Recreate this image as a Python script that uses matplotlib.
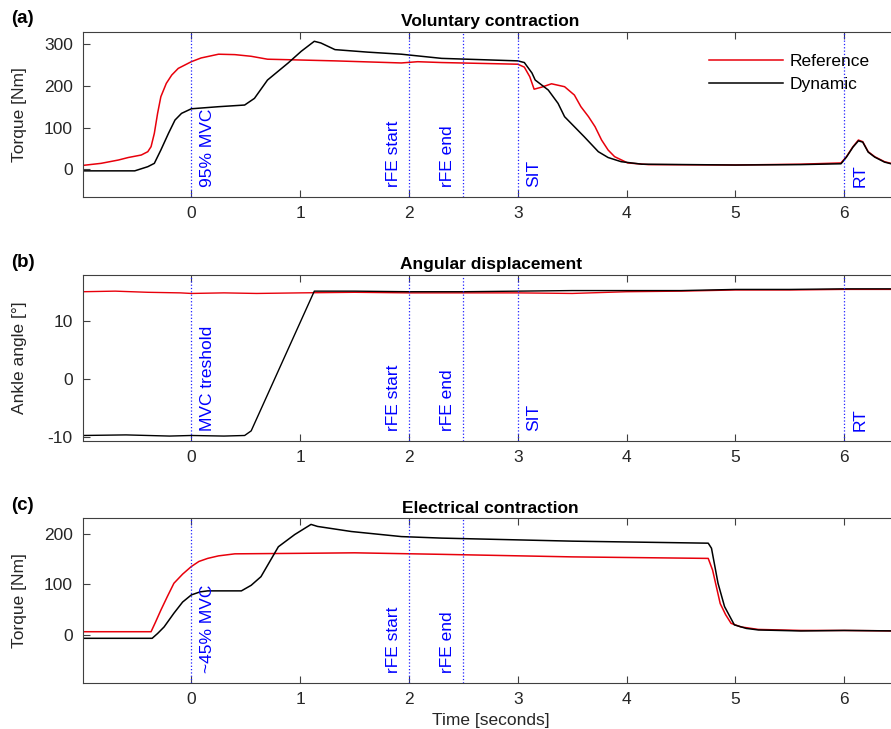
import numpy as np
import matplotlib.pyplot as plt
from matplotlib.transforms import blended_transform_factory, offset_copy

plt.rcParams['font.family'] = ['Liberation Sans', 'DejaVu Sans']
plt.rcParams['font.size'] = 12.5
plt.rcParams['axes.unicode_minus'] = False

# (a) Voluntary contraction - torque [Nm]
ta_ref = [-1.0, -0.83, -0.67, -0.58, -0.46, -0.40, -0.37, -0.34, -0.31, -0.28, -0.23,
          -0.18, -0.12, -0.06, 0.0, 0.09, 0.25, 0.40, 0.55, 0.70, 0.86, 1.32, 1.93,
          2.08, 2.3, 3.0, 3.06, 3.11, 3.15, 3.22, 3.31, 3.43, 3.52, 3.58, 3.65, 3.71,
          3.77, 3.83, 3.89, 4.01, 4.2, 5.0, 5.6, 5.97, 6.02, 6.08, 6.13, 6.17, 6.22,
          6.28, 6.37, 6.43, 6.5]
va_ref = [9, 14, 22, 28, 34, 42, 54, 86, 134, 174, 206,
          226, 242, 250, 258, 267, 276, 275, 271, 264, 263, 260, 255,
          258, 256, 252, 245, 222, 192, 197, 205, 198, 178, 150, 126, 102,
          70, 46, 30, 15, 11, 10, 12, 15, 30, 54, 70, 66, 42,
          30, 18, 14, 10]
ta_dyn = [-1.0, -0.52, -0.40, -0.34, -0.28, -0.21, -0.15, -0.09, 0.0, 0.25, 0.49,
          0.58, 0.64, 0.70, 0.89, 1.01, 1.13, 1.19, 1.32, 1.62, 1.93, 2.3, 3.0,
          3.06, 3.13, 3.16, 3.22, 3.28, 3.37, 3.43, 3.52, 3.61, 3.74, 3.83, 3.95,
          4.14, 5.0, 5.6, 5.97, 6.02, 6.08, 6.13, 6.17, 6.22, 6.28, 6.37, 6.43, 6.5]
va_dyn = [-4, -4, 6, 14, 46, 86, 118, 134, 145, 150, 154,
          170, 192, 214, 255, 283, 307, 303, 287, 281, 276, 266, 260,
          256, 231, 214, 202, 190, 158, 126, 102, 78, 42, 28, 18,
          12, 10, 11, 13, 29, 53, 68, 65, 41, 29, 17, 13, 9]

# (b) Angular displacement - ankle angle [deg]
tb_ref = [-1.0, -0.7, -0.4, -0.1, 0.0, 0.3, 0.6, 1.0, 1.5, 2.0, 2.5, 3.0, 3.5, 4.0,
          4.5, 5.0, 5.5, 6.0, 6.5]
vb_ref = [15.1, 15.2, 15.0, 14.9, 14.8, 14.9, 14.8, 14.9, 15.0, 14.9, 14.9, 14.9, 14.8, 15.1,
          15.2, 15.4, 15.4, 15.5, 15.5]
tb_dyn = [-1.0, -0.6, -0.2, 0.0, 0.3, 0.49, 0.55, 1.13, 1.5, 2.0, 2.5, 3.0, 3.5, 4.0,
          4.5, 5.0, 5.5, 6.0, 6.5]
vb_dyn = [-9.8, -9.7, -9.9, -9.8, -9.9, -9.8, -9.0, 15.2, 15.2, 15.1, 15.1, 15.2, 15.3, 15.3,
          15.3, 15.5, 15.5, 15.6, 15.6]

# (c) Electrical contraction - torque [Nm]
tc_ref = [-1.0, -0.37, -0.33, -0.28, -0.22, -0.16, -0.08, 0.0, 0.07, 0.15, 0.25, 0.4,
          1.0, 1.5, 2.3, 3.5, 4.75, 4.79, 4.86, 4.91, 4.96, 5.05, 5.21, 5.6, 6.0, 6.5]
vc_ref = [6.5, 6.5, 25, 49, 76, 102, 120, 135, 145, 151, 156, 160,
          161, 162, 159, 154, 151, 128, 62, 40, 23, 16, 11, 9, 9, 8]
tc_dyn = [-1.0, -0.36, -0.31, -0.25, -0.16, -0.08, 0.0, 0.08, 0.15, 0.46, 0.55, 0.64,
          0.80, 0.95, 1.10, 1.16, 1.47, 1.93, 2.3, 3.5, 4.75, 4.78, 4.84, 4.9, 4.99,
          5.1, 5.21, 5.6, 6.0, 6.5]
vc_dyn = [-6.5, -6.5, 3, 16, 43, 65, 79, 85, 87, 87, 98, 115,
          174, 198, 218, 214, 204, 194, 191, 185, 181, 171, 102, 56, 20,
          13, 10, 8, 9, 8]

events_ab = [(0, '95% MVC', 'right'), (2, 'rFE start', 'left'), (2.5, 'rFE end', 'left'),
             (3, 'SIT', 'right'), (6, 'RT', 'right')]
events_b0 = 'MVC treshold'
events_c = [(0, '~45% MVC', 'right'), (2, 'rFE start', 'left'), (2.5, 'rFE end', 'left')]

fig = plt.figure(figsize=(8.91, 7.29), dpi=100)
left, width = 0.0926, 0.916
axa = fig.add_axes([left, 0.7302, width, 0.2263])
axb = fig.add_axes([left, 0.3955, width, 0.2273])
axc = fig.add_axes([left, 0.0635, width, 0.2255])

red = '#e8000b'
txtc = '#262626'

def style(ax, ylim, yticks, title, letter, events):
    ax.set_xlim(-1, 6.5)
    ax.set_ylim(*ylim)
    ax.set_xticks(range(0, 7))
    ax.set_yticks(yticks)
    ax.tick_params(direction='in', top=True, right=True, length=5, width=0.8,
                   colors='#404040', labelcolor=txtc, labelsize=12.5, pad=7)
    for s in ax.spines.values():
        s.set_color('#404040')
        s.set_linewidth(0.8)
    ax.set_title(title, fontweight='bold', fontsize=12.5, pad=4)
    tr = blended_transform_factory(ax.transData, ax.transAxes)
    for x, lab, side in events:
        ax.axvline(x, color='#2020ff', ls=':', lw=0.9)
        dx = 6 if side == 'right' else -6
        t2 = offset_copy(tr, fig=fig, x=dx, y=0, units='points')
        ax.text(x, 0.06, lab, rotation=90, color='#0000ff', fontsize=12.5,
                transform=t2, ha=side == 'right' and 'left' or 'right', va='bottom')
    pos = ax.get_position()
    fig.text(0.013, pos.y1 + 0.006, letter, fontweight='bold', fontsize=13.5, va='bottom')

axa.plot(ta_ref, va_ref, color=red, lw=1.1, label='Reference')
axa.plot(ta_dyn, va_dyn, color='black', lw=1.1, label='Dynamic')
style(axa, (-66, 330), [0, 100, 200, 300], 'Voluntary contraction', '(a)', events_ab)
axa.set_ylabel('Torque [Nm]', color=txtc)
axa.legend(loc='upper right', bbox_to_anchor=(0.973, 0.905), frameon=False,
           handlelength=4.3, handletextpad=0.35, labelspacing=0.45, fontsize=12.5,
           borderaxespad=0)

axb.plot(tb_ref, vb_ref, color=red, lw=1.0)
axb.plot(tb_dyn, vb_dyn, color='black', lw=1.0)
style(axb, (-10.7, 18), [-10, 0, 10], 'Angular displacement', '(b)',
      [(0, events_b0, 'right')] + events_ab[1:])
axb.set_ylabel('Ankle angle [°]', color=txtc)

axc.plot(tc_ref, vc_ref, color=red, lw=1.1)
axc.plot(tc_dyn, vc_dyn, color='black', lw=1.1)
style(axc, (-94, 230), [0, 100, 200], 'Electrical contraction', '(c)', events_c)
axc.set_ylabel('Torque [Nm]', color=txtc)
axc.set_xlabel('Time [seconds]', color=txtc, labelpad=4)

for ax in (axa, axb, axc):
    ax.yaxis.set_label_coords(-0.068, 0.5)

fig.savefig('out.png', dpi=100)
